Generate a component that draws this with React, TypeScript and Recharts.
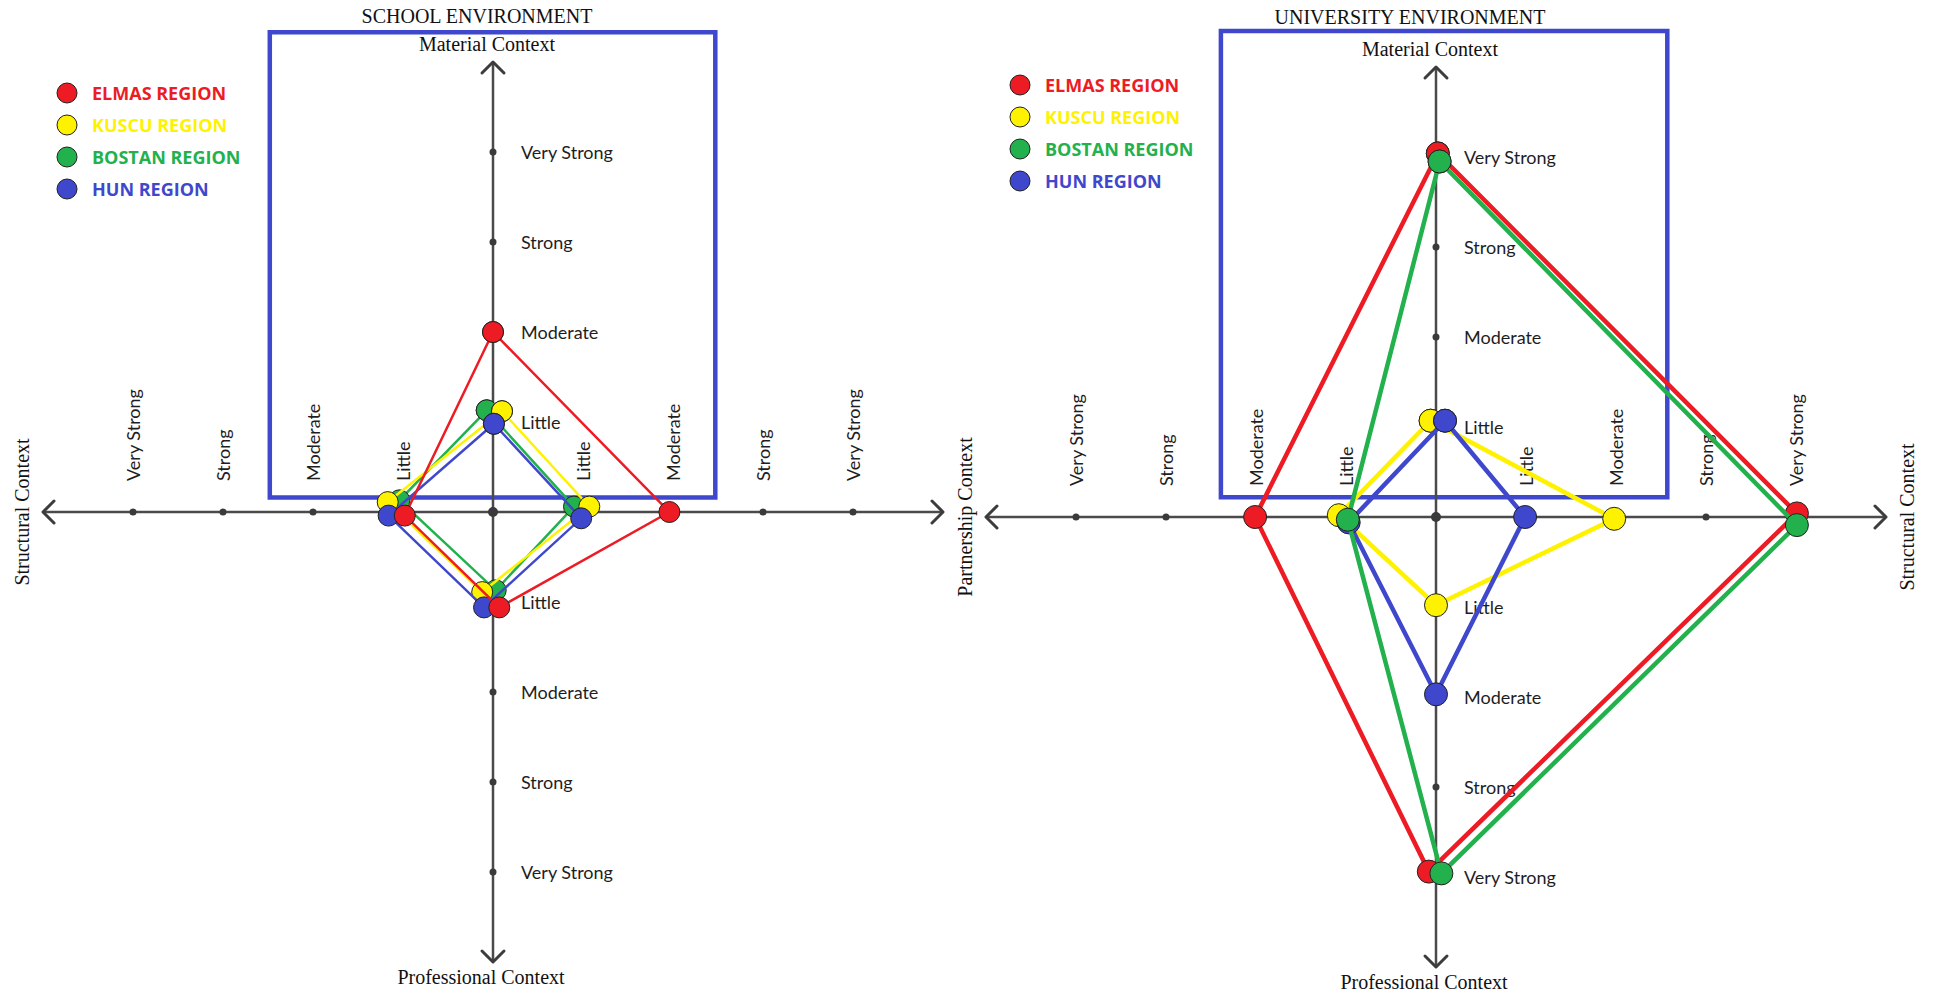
import { ScatterChart, Scatter, XAxis, YAxis, ReferenceLine, ReferenceDot, ReferenceArea, Legend } from 'recharts'

// levels along every axis, 1 = Little ... 4 = Very Strong
const levels = ['Little', 'Moderate', 'Strong', 'Very Strong']
const regions = ['ELMAS REGION', 'KUSCU REGION', 'BOSTAN REGION', 'HUN REGION']
const regionColors = ['#ED1C24', '#FFF200', '#22B14C', '#3F48CC']

// points: top, right, bottom, left (level units)
const schoolElmas = [[0, 2], [1.96, 0], [0.07, -1.06], [-0.98, -0.04]]
const schoolKuscu = [[0.1, 1.12], [1.07, 0.06], [-0.12, -0.89], [-1.17, 0.11]]
const schoolBostan = [[-0.07, 1.13], [0.9, 0.06], [0.03, -0.87], [-1.04, 0.13]]
const schoolHun = [[0.01, 0.98], [0.98, -0.07], [-0.1, -1.06], [-1.16, -0.04]]

const uniElmas = [[0.02, 4.04], [4.01, 0.04], [-0.08, -3.94], [-2.01, 0]]
const uniKuscu = [[-0.06, 1.07], [1.98, -0.02], [0, -0.98], [-1.08, 0.02]]
const uniBostan = [[0.04, 3.95], [4.01, -0.09], [0.06, -3.96], [-0.98, -0.03]]
const uniHun = [[0.1, 1.07], [0.99, 0], [0, -1.97], [-0.97, -0.06]]

const serif = '"Liberation Serif", "Times New Roman", serif'
const sans = 'Lato, "Open Sans", sans-serif'

const closed = (a: number[][]) => [...a, a[0]].map(([x, y]) => ({ x, y }))

const ticks = [
  { x: 0, y: 0, label: '', dir: 'c' },
  ...levels.flatMap((label, i) => [
    { x: i + 1, y: 0, label, dir: 'h' },
    { x: -(i + 1), y: 0, label, dir: 'h' },
    { x: 0, y: i + 1, label, dir: 'v' },
    { x: 0, y: -(i + 1), label, dir: 'v' },
  ]),
]

const TickShape = (p: any) => {
  const { cx, cy, payload } = p
  const txt = { fontFamily: sans, fontSize: 18, fill: '#1e1e1e' }
  return (
    <g>
      <circle cx={cx} cy={cy} r={payload.dir === 'c' ? 5 : 3.5} fill="#3a3a3a" />
      {payload.dir === 'h' && (
        <text x={cx} y={cy - 31} transform={`rotate(-90 ${cx} ${cy - 31})`} dominantBaseline="central" {...txt}>
          {payload.label}
        </text>
      )}
      {payload.dir === 'v' && (
        <text x={cx + 28} y={cy} dominantBaseline="central" {...txt}>
          {payload.label}
        </text>
      )}
    </g>
  )
}

const arrow = (dir: string, name: string) => (p: any) => {
  const { cx, cy } = p
  const s = 11
  let d = ''
  let label = null
  const txt = { fontFamily: serif, fontSize: 20, fill: '#111', textAnchor: 'middle' as const }
  if (dir === 'up') {
    d = `M${cx - s},${cy + s} L${cx},${cy} L${cx + s},${cy + s}`
    label = <text x={cx - 6} y={cy - 11} {...txt}>{name}</text>
  } else if (dir === 'down') {
    d = `M${cx - s},${cy - s} L${cx},${cy} L${cx + s},${cy - s}`
    label = <text x={cx - 12} y={cy + 22} {...txt}>{name}</text>
  } else if (dir === 'left') {
    d = `M${cx + s},${cy - s} L${cx},${cy} L${cx + s},${cy + s}`
    label = <text x={cx - 21} y={cy} transform={`rotate(-90 ${cx - 21} ${cy})`} dominantBaseline="central" {...txt}>{name}</text>
  } else {
    d = `M${cx - s},${cy - s} L${cx},${cy} L${cx - s},${cy + s}`
    label = <text x={cx + 21} y={cy} transform={`rotate(-90 ${cx + 21} ${cy})`} dominantBaseline="central" {...txt}>{name}</text>
  }
  return (
    <g>
      <path d={d} fill="none" stroke="#3c3c3c" strokeWidth={3} strokeLinecap="round" strokeLinejoin="round" />
      {name && label}
    </g>
  )
}

const LegendBox = () => (
  <div>
    {regions.map((r, i) => (
      <div key={r} style={{ display: 'flex', alignItems: 'center', height: 32 }}>
        <svg width={22} height={22}>
          <circle cx={11} cy={11} r={10} fill={regionColors[i]} stroke="#222" strokeWidth={1} />
        </svg>
        <span style={{ marginLeft: 14, color: regionColors[i], fontFamily: '"Open Sans", sans-serif', fontWeight: 700, fontSize: 18 }}>{r}</span>
      </div>
    ))}
  </div>
)

type PanelProps = {
  left: number
  width: number
  margin: { top: number; right: number; bottom: number; left: number }
  series: number[][][]
  order: number[]
  names: string[]
  lineWidth: number
  markerR: number
  rect: number[]
  legendPos: { left: number; top: number }
}

function Panel(props: PanelProps) {
  const { left, width, margin, series, order, names, lineWidth, markerR, rect, legendPos } = props
  return (
    <div style={{ position: 'absolute', left, top: 0 }}>
      <ScatterChart width={width} height={992} margin={margin}>
        <XAxis type="number" dataKey="x" domain={[-5, 5]} hide />
        <YAxis type="number" dataKey="y" domain={[-5, 5]} hide />
        <ReferenceLine segment={[{ x: -5, y: 0 }, { x: 5, y: 0 }]} stroke="#4a4a4a" strokeWidth={2.5} ifOverflow="visible" />
        <ReferenceLine segment={[{ x: 0, y: -5 }, { x: 0, y: 5 }]} stroke="#4a4a4a" strokeWidth={2.5} ifOverflow="visible" />
        <ReferenceDot x={0} y={5} r={1} ifOverflow="visible" shape={arrow('up', names[0])} />
        <ReferenceDot x={0} y={-5} r={1} ifOverflow="visible" shape={arrow('down', names[1])} />
        <ReferenceDot x={-5} y={0} r={1} ifOverflow="visible" shape={arrow('left', names[2])} />
        <ReferenceDot x={5} y={0} r={1} ifOverflow="visible" shape={arrow('right', names[3])} />
        <Scatter data={ticks} shape={TickShape} isAnimationActive={false} />
        {order.map((i) => (
          <Scatter
            key={regions[i]}
            name={regions[i]}
            data={closed(series[i])}
            fill={regionColors[i]}
            line={{ stroke: regionColors[i], strokeWidth: lineWidth }}
            lineType="joint"
            shape={(p: any) => <circle cx={p.cx} cy={p.cy} r={markerR} fill={regionColors[i]} stroke="#222" strokeWidth={1} />}
            isAnimationActive={false}
          />
        ))}
        <ReferenceArea x1={rect[0]} x2={rect[1]} y1={rect[2]} y2={rect[3]} fill="none" stroke="#3F48CC" strokeWidth={4.5} ifOverflow="visible" />
        <Legend layout="horizontal" verticalAlign="middle" align="center" content={<LegendBox />} wrapperStyle={{ left: legendPos.left, top: legendPos.top, width: 'auto', height: 'auto' }} />
      </ScatterChart>
    </div>
  )
}

export default function App() {
  return (
    <div style={{ position: 'absolute', left: 0, top: 0, width: 1939, height: 992, background: '#fff', overflow: 'hidden' }}>
      <Panel
        left={0}
        width={969}
        margin={{ top: 62, right: 26, bottom: 30, left: 43 }}
        series={[schoolElmas, schoolKuscu, schoolBostan, schoolHun]}
        order={[2, 1, 3, 0]}
        names={['Material Context', 'Professional Context', 'Structural Context', '']}
        lineWidth={2.5}
        markerR={10.5}
        rect={[-2.48, 2.47, 0.16, 5.33]}
        legendPos={{ left: 56, top: 77 }}
      />
      <Panel
        left={930}
        width={1009}
        margin={{ top: 67, right: 53, bottom: 25, left: 56 }}
        series={[uniElmas, uniKuscu, uniBostan, uniHun]}
        order={[0, 1, 3, 2]}
        names={['Material Context', 'Professional Context', 'Partnership Context', 'Structural Context']}
        lineWidth={4.5}
        markerR={11.5}
        rect={[-2.39, 2.57, 0.22, 5.4]}
        legendPos={{ left: 79, top: 69 }}
      />
      <div style={{ position: 'absolute', left: 477, top: 5, transform: 'translateX(-50%)', fontFamily: serif, fontSize: 20, lineHeight: '22px', color: '#111', whiteSpace: 'nowrap' }}>
        SCHOOL ENVIRONMENT
      </div>
      <div style={{ position: 'absolute', left: 1410, top: 6, transform: 'translateX(-50%)', fontFamily: serif, fontSize: 20, lineHeight: '22px', color: '#111', whiteSpace: 'nowrap' }}>
        UNIVERSITY ENVIRONMENT
      </div>
    </div>
  )
}
